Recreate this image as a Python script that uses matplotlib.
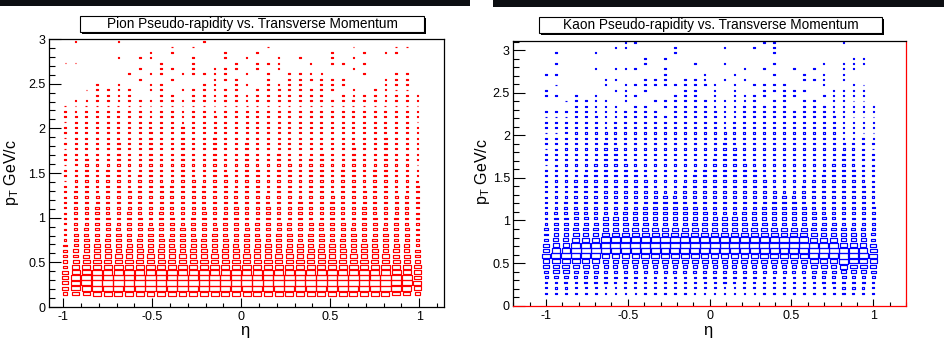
import numpy as np
import matplotlib
matplotlib.use("Agg")
import matplotlib.pyplot as plt
from matplotlib.patches import Rectangle
from matplotlib.collections import PatchCollection
from matplotlib.ticker import MultipleLocator, FixedLocator, FixedFormatter

plt.rcParams['font.family'] = ['Liberation Sans', 'DejaVu Sans']
plt.rcParams['axes.unicode_minus'] = False
plt.rcParams['mathtext.fontset'] = 'custom'
plt.rcParams['mathtext.rm'] = 'Liberation Sans'

# ---------------- binning ----------------
N_ETA, N_PT = 34, 48
pion_eta = np.linspace(-0.99, 0.99, N_ETA)
pion_pt = 0.15 + 0.06 * np.arange(N_PT)
pion_bin = (0.06, 0.06)
kaon_eta = np.linspace(-1.0, 1.0, N_ETA)
kaon_pt = 0.146 + 0.0627 * np.arange(N_PT)
kaon_bin = (2.0 / 33, 0.0627)

# ---------------- pion content (relative) ----------------
pion_pt_profile = [0.72, 0.92, 0.97, 0.95, 0.85, 0.75, 0.66, 0.58, 0.52, 0.47,
                   0.43, 0.40, 0.37, 0.34, 0.32, 0.30, 0.29, 0.28, 0.27, 0.26,
                   0.25, 0.24, 0.235, 0.23, 0.22, 0.215, 0.21, 0.205, 0.20, 0.195,
                   0.19, 0.185, 0.18, 0.175, 0.17, 0.17, 0.165, 0.16, 0.16, 0.155,
                   0.155, 0.15, 0.15, 0.15, 0.15, 0.15, 0.15, 0.15]
pion_eta_weight = [0.60, 0.85, 0.95] + [1.0] * 28 + [0.95, 0.90, 0.75]
pion_full_below = 36
pion_sparse_rows = {
    36: list(range(1, 34)),
    37: [3, 4, 5, 6, 9, 10, 12, 13, 14, 15, 16, 17, 18, 19, 20, 21, 22, 23, 24,
         26, 27, 28, 29, 30, 31, 32, 33],
    38: [2, 3, 4, 5, 6, 8, 9, 11, 12, 13, 14, 15, 16, 18, 19, 20, 21, 22, 23,
         24, 25, 27, 29, 30, 31, 32],
    39: [3, 5, 8, 9, 13, 14, 16, 17, 19, 20, 21, 22, 24, 25, 26, 30, 31, 32],
    40: [7, 10, 14, 15, 16, 19, 21, 22, 23, 24, 25, 26, 30, 31, 32],
    41: [6, 8, 9, 11, 12, 13, 14, 15, 17, 19, 21, 22, 23, 24, 28, 31, 32],
    42: [7, 9, 10, 12, 14, 15, 16, 18, 20, 27],
    43: [0, 1, 9, 12, 16, 18, 19, 20, 23, 25, 26, 28],
    44: [5, 7, 8, 12, 15, 17, 20, 22, 25, 27],
    45: [8, 10, 15, 18, 25, 28, 30, 31],
    46: [10, 12, 19, 27, 31, 32],
    47: [1, 5, 13],
}

# ---------------- kaon content (relative) ----------------
kaon_pt_profile = [0.14, 0.18, 0.21, 0.25, 0.30, 0.40, 0.58, 0.76, 0.90, 1.00,
                   0.92, 0.70, 0.56, 0.47, 0.42, 0.38, 0.35, 0.33, 0.31, 0.29,
                   0.28, 0.27, 0.26, 0.25, 0.24, 0.23, 0.22, 0.215, 0.21, 0.205,
                   0.20, 0.195, 0.19, 0.185, 0.18, 0.175, 0.17, 0.17, 0.165, 0.165,
                   0.16, 0.16, 0.16, 0.16, 0.16, 0.16, 0.16, 0.16]
kaon_eta_weight = [0.75, 0.90, 0.95] + [1.0] * 28 + [0.95, 0.90, 0.80]
kaon_peak_shift = [-2, -2, -2, -1, -1, -1] + [0] * 21 + [-1, -1, -1, -2, -2, -2, -2]
kaon_full_below = 34
kaon_sparse_rows = {
    34: [c for c in range(34) if c != 12],
    35: [3, 4, 5, 6, 7, 9, 10, 12, 13, 14, 15, 16, 17, 18, 19, 20, 21, 22, 23,
         24, 26, 27, 28, 29, 30, 31, 32, 33],
    36: [2, 3, 4, 5, 6, 8, 11, 12, 13, 14, 15, 16, 17, 18, 19, 20, 21, 23, 24,
         26, 27, 29, 30, 31, 32],
    37: [0, 1, 3, 5, 8, 9, 13, 14, 15, 17, 19, 20, 21, 22, 24, 25, 28, 29, 30,
         31, 32],
    38: [0, 7, 8, 10, 14, 15, 17, 19, 22, 23, 24, 25, 26, 29, 30, 31, 32],
    39: [1, 6, 8, 9, 10, 11, 12, 13, 14, 15, 16, 17, 19, 21, 22, 23, 24, 28, 31, 32],
    40: [6, 7, 10, 11, 12, 14, 15, 16, 18, 20, 26, 27, 28, 30],
    41: [0, 1, 12, 16, 19, 23, 26, 28, 30],
    42: [5, 7, 8, 9, 12, 20, 22, 25, 27, 30, 31],
    43: [1, 10, 15, 18, 23, 28, 30, 31, 32],
    44: [10, 12, 31, 32],
    45: [1, 5, 13, 23],
    46: [7, 8, 13, 18, 21, 23],
    47: [8, 9, 22, 23, 30],
}


def occupied(r, c, full_below, sparse):
    if r < full_below:
        return True
    return c in sparse.get(r, [])


def pion_content():
    h = np.zeros((N_PT, N_ETA))
    for r in range(N_PT):
        for c in range(N_ETA):
            if occupied(r, c, pion_full_below, pion_sparse_rows):
                h[r, c] = pion_pt_profile[r] * pion_eta_weight[c]
    return h


def kaon_content():
    h = np.zeros((N_PT, N_ETA))
    for r in range(N_PT):
        for c in range(N_ETA):
            if occupied(r, c, kaon_full_below, kaon_sparse_rows):
                k = min(max(r - kaon_peak_shift[c], 0), N_PT - 1)
                h[r, c] = kaon_pt_profile[k] * kaon_eta_weight[c]
    return h


def draw_boxes(ax, eta, pt, content, binsz, color):
    rects = []
    hmax = content.max()
    for r in range(N_PT):
        for c in range(N_ETA):
            v = content[r, c]
            if v <= 0:
                continue
            f = v / hmax
            w, h = f * binsz[0], f * binsz[1]
            rects.append(Rectangle((eta[c] - w / 2, pt[r] - h / 2), w, h))
    pc = PatchCollection(rects, facecolor='none', edgecolor=color, linewidth=0.85)
    ax.add_collection(pc)


W, H = 945, 339
fig = plt.figure(figsize=(W / 100, H / 100), dpi=100)
fig.patch.set_facecolor('white')


def px_axes(x0, x1, ytop, ybot):
    return fig.add_axes([x0 / W, 1 - ybot / H, (x1 - x0) / W, (ybot - ytop) / H])


def style_axes(ax, xlim, ylim, ymaj_len, xmaj_len):
    ax.set_xlim(*xlim)
    ax.set_ylim(*ylim)
    xt = [-1, -0.5, 0, 0.5, 1]
    ax.xaxis.set_major_locator(FixedLocator(xt))
    ax.xaxis.set_major_formatter(FixedFormatter(['-1', '-0.5', '0', '0.5', '1']))
    yt = [0, 0.5, 1, 1.5, 2, 2.5, 3]
    ax.yaxis.set_major_locator(FixedLocator(yt))
    ax.yaxis.set_major_formatter(FixedFormatter(['0', '0.5', '1', '1.5', '2', '2.5', '3']))
    ax.xaxis.set_minor_locator(MultipleLocator(0.1))
    ax.yaxis.set_minor_locator(MultipleLocator(0.1))
    ax.tick_params(axis='both', which='both', direction='in', top=False, right=False,
                   labelsize=9, colors='black', width=0.8)
    ax.tick_params(axis='y', which='major', length=ymaj_len, pad=2.5)
    ax.tick_params(axis='y', which='minor', length=ymaj_len / 2)
    ax.tick_params(axis='x', which='major', length=xmaj_len, pad=3)
    ax.tick_params(axis='x', which='minor', length=xmaj_len / 2)
    for s in ax.spines.values():
        s.set_linewidth(0.9)
        s.set_color('black')


def title_box(x0, x1, ytop, ybot, text, target_w):
    fig.patches.append(Rectangle(((x0 + 2) / W, 1 - (ybot + 2) / H),
                                 (x1 - x0) / W, (ybot - ytop) / H,
                                 transform=fig.transFigure, facecolor='black',
                                 edgecolor='none'))
    fig.patches.append(Rectangle((x0 / W, 1 - ybot / H), (x1 - x0) / W, (ybot - ytop) / H,
                                 transform=fig.transFigure, facecolor='white',
                                 edgecolor='black', linewidth=0.8))
    t = fig.text((x0 + x1) / 2 / W, 1 - (ytop + ybot) / 2 / H, text, ha='center',
                 va='center', fontsize=10)
    fig.canvas.draw()
    bb = t.get_window_extent()
    t.set_fontsize(10 * target_w / bb.width)


# top band
fig.patches.append(Rectangle((0, 1 - 6 / H), 470 / W, 6 / H, transform=fig.transFigure,
                             facecolor='#0c0e12', edgecolor='none'))
fig.patches.append(Rectangle((493 / W, 1 - 6.5 / H), (W - 493) / W, 6.5 / H,
                             transform=fig.transFigure, facecolor='#0c0e12',
                             edgecolor='none'))

# ---- pion panel ----
ax1 = px_axes(49, 444, 39, 307)
style_axes(ax1, (-1.08, 1.139), (0, 3), 12 * 0.72, 8.7 * 0.72)
draw_boxes(ax1, pion_eta, pion_pt, pion_content(), pion_bin, '#ff0000')
fig.text(245 / W, 1 - 331 / H, 'η', ha='center', va='center', fontsize=12)
fig.text(12 / W, 1 - 173 / H, r'$\mathregular{p_{T}}$ GeV/c', ha='center', va='center',
         rotation=90, fontsize=11.5)
title_box(80, 424, 15.7, 32, 'Pion Pseudo-rapidity vs. Transverse Momentum', 292)

# ---- kaon panel ----
ax2 = px_axes(513.3, 906, 40.7, 305.7)
style_axes(ax2, (-1.2, 1.2), (0, 3.11), 11.7 * 0.72, 7.5 * 0.72)
ax2.spines['bottom'].set_color('#ff0000')
ax2.spines['right'].set_color('#ff0000')
draw_boxes(ax2, kaon_eta, kaon_pt, kaon_content(), kaon_bin, '#0000ff')
fig.text(708 / W, 1 - 330 / H, 'η', ha='center', va='center', fontsize=12)
fig.text(482 / W, 1 - 172 / H, r'$\mathregular{p_{T}}$ GeV/c', ha='center', va='center',
         rotation=90, fontsize=11.5)
title_box(539, 882, 16.7, 33, 'Kaon Pseudo-rapidity vs. Transverse Momentum', 295)

fig.savefig('out.png', dpi=100, facecolor='white')
